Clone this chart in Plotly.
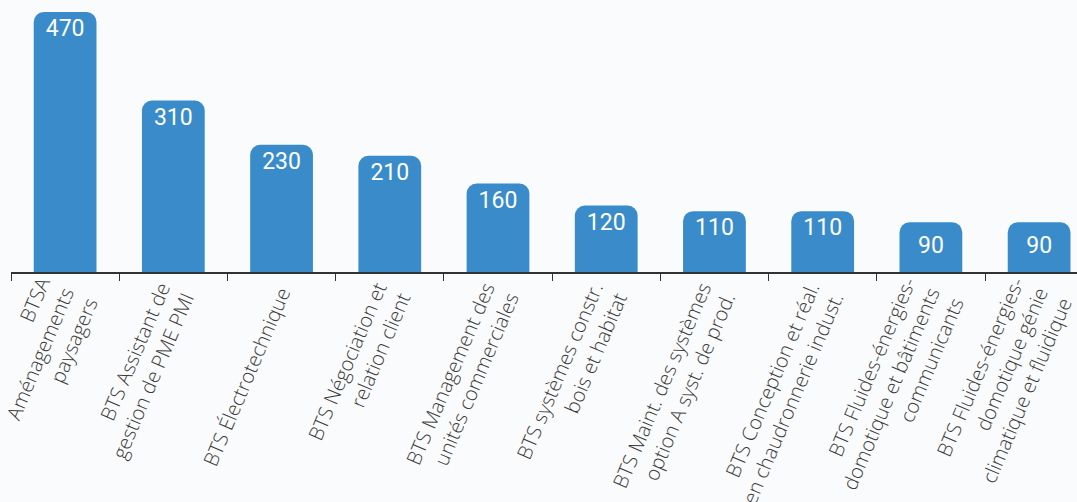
import plotly.graph_objects as go

categories = [
    "BTSA<br>Aménagements<br>paysagers",
    "BTS Assistant de<br>gestion de PME PMI",
    "BTS Électrotechnique",
    "BTS Négociation et<br>relation client",
    "BTS Management des<br>unités commerciales",
    "BTS systèmes constr.<br>bois et habitat",
    "BTS Maint. des systèmes<br>option A syst. de prod.",
    "BTS Conception et réal.<br>en chaudronnerie indust.",
    "BTS Fluides-énergies-<br>domotique et bâtiments<br>communicants",
    "BTS Fluides-énergies-<br>domotique génie<br>climatique et fluidique",
]
values = [470, 310, 230, 210, 160, 120, 110, 110, 90, 90]
value_labels = [str(v) for v in values]

BG = "#fafbfd"
BLUE = "#398cc9"

fig = go.Figure(
    go.Bar(
        x=categories,
        y=values,
        text=value_labels,
        textposition="inside",
        insidetextanchor="end",
        textangle=0,
        textfont=dict(family="Roboto", size=23, color="white", weight=400),
        marker=dict(color=BLUE, line=dict(width=0)),
        width=0.58,
        hoverinfo="skip",
    )
)

fig.update_layout(
    width=1077,
    height=502,
    paper_bgcolor=BG,
    plot_bgcolor=BG,
    margin=dict(l=11, r=0, t=0, b=230),
    barcornerradius=10,
    showlegend=False,
    uniformtext=dict(mode=False),
    xaxis=dict(
        type="category",
        range=[-0.5, 9.35],
        automargin=False,
        showline=True,
        linecolor="#333333",
        linewidth=1.5,
        ticks="outside",
        tickson="boundaries",
        ticklen=7,
        tickcolor="#333333",
        tickwidth=1.2,
        tickangle=-67,
        tickfont=dict(family="Open Sans", size=20, color="#3a3a3a", weight=300),
        showgrid=False,
        fixedrange=True,
    ),
    yaxis=dict(
        range=[0, 491.7],
        visible=False,
        automargin=False,
        showgrid=False,
        zeroline=False,
        fixedrange=True,
    ),
)

fig.write_html(
    "out.html",
    config={"displayModeBar": False},
    post_script="document.body.style.margin='0';document.body.style.background='" + BG + "';document.body.style.overflow='hidden';",
)
